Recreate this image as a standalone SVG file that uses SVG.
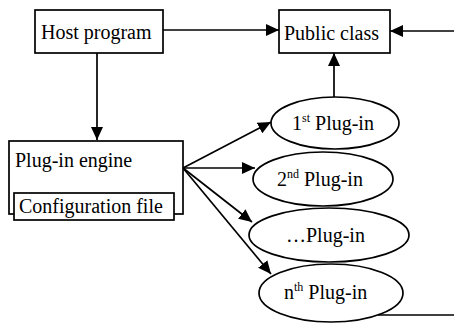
<svg xmlns="http://www.w3.org/2000/svg" width="454" height="325" viewBox="0 0 454 325">
<style>
.box{fill:#fff;stroke:#000;stroke-width:1.7}
.ell{fill:#fff;stroke:#000;stroke-width:1.7}
.t{font-family:"Liberation Serif","Times New Roman",serif;font-size:20px;fill:#000}
.sup{font-size:12px}
.c{fill:none;stroke:#000;stroke-width:1.7}
</style>
<defs>
<marker id="ah" markerUnits="userSpaceOnUse" markerWidth="14" markerHeight="12" refX="13" refY="6" orient="auto">
<path d="M0,0 L13,6 L0,12 Z" fill="#000"/>
</marker>
</defs>
<rect width="454" height="325" fill="#fff"/>
<g id="connectors">
<line class="c" x1="97" y1="53" x2="97" y2="140" marker-end="url(#ah)"/>
<line class="c" x1="163" y1="30" x2="279" y2="30" marker-end="url(#ah)"/>
<line class="c" x1="454" y1="31" x2="390" y2="31" marker-end="url(#ah)"/>
<line class="c" x1="334" y1="97" x2="334" y2="53" marker-end="url(#ah)"/>
<line class="c" x1="183" y1="168" x2="271" y2="122" marker-end="url(#ah)"/>
<line class="c" x1="183" y1="168" x2="255" y2="168" marker-end="url(#ah)"/>
<line class="c" x1="183" y1="168" x2="252" y2="222" marker-end="url(#ah)"/>
<line class="c" x1="183" y1="168" x2="271" y2="274" marker-end="url(#ah)"/>
<line class="c" x1="378" y1="315" x2="454" y2="315"/>
</g>
<g id="host">
<rect class="box" x="35" y="10" width="128" height="43"/>
<text class="t" x="41" y="39">Host program</text>
</g>
<g id="public">
<rect class="box" x="279" y="10" width="111" height="43"/>
<text class="t" x="284" y="40">Public class</text>
</g>
<g id="engine">
<rect class="box" x="9" y="141" width="174" height="73"/>
<text class="t" x="15" y="167">Plug-in engine</text>
</g>
<g id="config">
<rect class="box" x="14" y="193" width="160" height="27"/>
<text class="t" x="19" y="213">Configuration file</text>
</g>
<g id="plugin1">
<ellipse class="ell" cx="335" cy="123" rx="64" ry="26"/>
<text class="t" x="292" y="130">1<tspan class="sup" dy="-8">st</tspan><tspan dy="8"> Plug-in</tspan></text>
</g>
<g id="plugin2">
<ellipse class="ell" cx="323" cy="179" rx="70" ry="27"/>
<text class="t" x="277" y="186">2<tspan class="sup" dy="-8">nd</tspan><tspan dy="8"> Plug-in</tspan></text>
</g>
<g id="plugin3">
<ellipse class="ell" cx="329" cy="235" rx="80" ry="27"/>
<text class="t" x="286" y="242">…Plug-in</text>
</g>
<g id="pluginN">
<ellipse class="ell" cx="331" cy="293" rx="72" ry="29"/>
<text class="t" x="284" y="299">n<tspan class="sup" dy="-8">th</tspan><tspan dy="8"> Plug-in</tspan></text>
</g>
</svg>
